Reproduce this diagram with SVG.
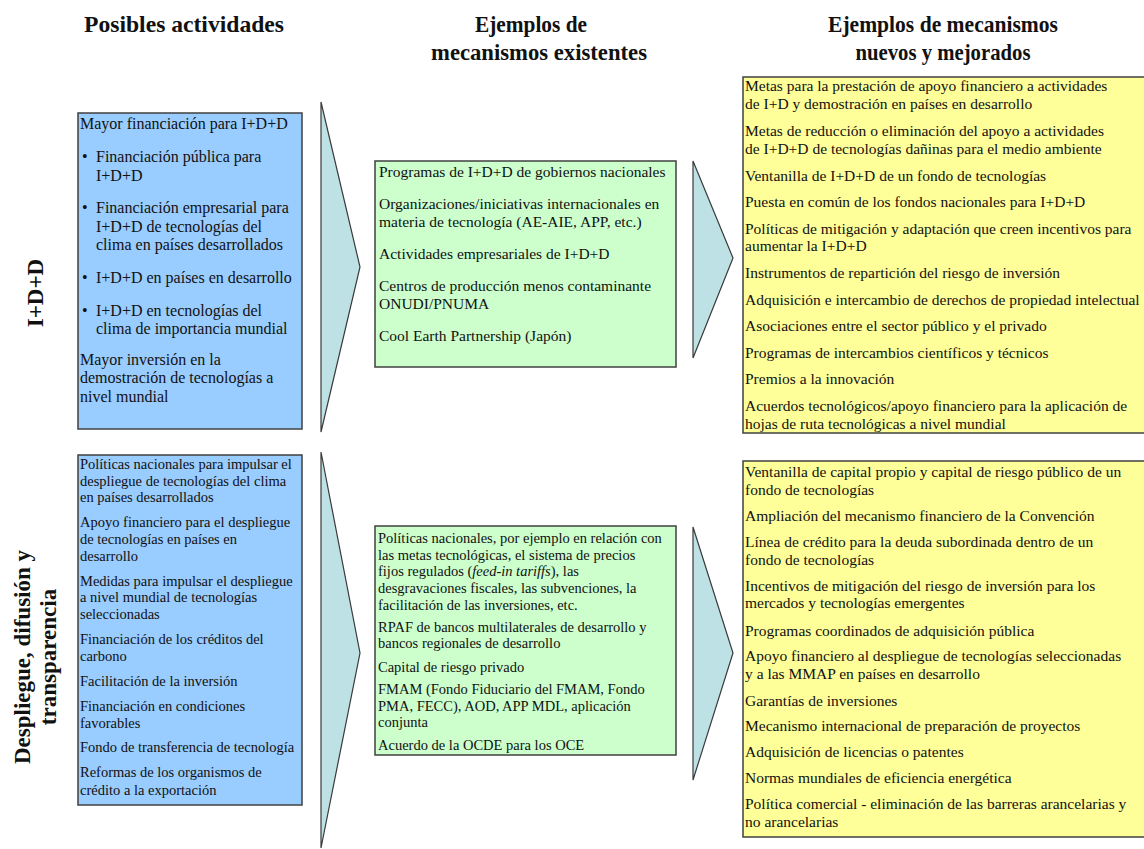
<svg xmlns="http://www.w3.org/2000/svg" width="1144" height="849" viewBox="0 0 1144 849">
<style>
text{font-family:"Liberation Serif","Times New Roman",serif;fill:#111}
.h{font-size:23px;font-weight:bold;text-anchor:middle}
.side{font-size:23px;font-weight:bold;text-anchor:middle}
.box{stroke:#404040;stroke-width:1.5}
.blue{fill:#99ccff}
.green{fill:#ccffcc}
.yellow{fill:#ffff99}
.chev{fill:#bde1e4;stroke:#3a3a3a;stroke-width:1.2}
.t16{font-size:16px}
.t155{font-size:15.5px}
.t145{font-size:14.5px}
</style>
<rect width="1144" height="849" fill="#fff"/>
<g id="headers">
<text class="h" x="184" y="32" textLength="200" lengthAdjust="spacingAndGlyphs">Posibles actividades</text>
<text class="h" x="531" y="32" textLength="112" lengthAdjust="spacingAndGlyphs">Ejemplos de</text>
<text class="h" x="539" y="60" textLength="216" lengthAdjust="spacingAndGlyphs">mecanismos existentes</text>
<text class="h" x="943" y="32" textLength="230" lengthAdjust="spacingAndGlyphs">Ejemplos de mecanismos</text>
<text class="h" x="943" y="60" textLength="175" lengthAdjust="spacingAndGlyphs">nuevos y mejorados</text>
</g>
<g id="label-ird">
<text class="side" transform="translate(43,293) rotate(-90)" x="0" y="0">I+D+D</text>
</g>
<g id="label-despliegue">
<text class="side" transform="translate(30,657) rotate(-90)" x="0" y="0">Despliegue, difusión y</text>
<text class="side" transform="translate(56,657) rotate(-90)" x="0" y="0">transparencia</text>
</g>
<g id="connectors">
<polygon class="chev" points="321,102 360,267 321,432"/>
<polygon class="chev" points="321,452 360,653 321,848"/>
<polygon class="chev" points="693,161 733,258 693,358"/>
<polygon class="chev" points="693,527 733,653 693,780"/>
</g>
<g id="box-act-1">
<rect class="box blue" x="78" y="113" width="224" height="316"/>
<text class="t16" x="80">
<tspan x="80" y="129">Mayor financiación para I+D+D</tspan>
<tspan x="82" y="162">•</tspan><tspan x="96" y="162">Financiación pública para</tspan>
<tspan x="96" y="181">I+D+D</tspan>
<tspan x="82" y="213">•</tspan><tspan x="96" y="213">Financiación empresarial para</tspan>
<tspan x="96" y="232">I+D+D de tecnologías del</tspan>
<tspan x="96" y="250">clima en países desarrollados</tspan>
<tspan x="82" y="283">•</tspan><tspan x="96" y="283">I+D+D en países en desarrollo</tspan>
<tspan x="82" y="316">•</tspan><tspan x="96" y="316">I+D+D en tecnologías del</tspan>
<tspan x="96" y="334">clima de importancia mundial</tspan>
<tspan x="80" y="365">Mayor inversión en la</tspan>
<tspan x="80" y="383">demostración de tecnologías a</tspan>
<tspan x="80" y="402">nivel mundial</tspan>
</text>
</g>
<g id="box-act-2">
<rect class="box blue" x="78" y="455" width="224" height="350"/>
<text class="t145">
<tspan x="80" y="469">Políticas nacionales para impulsar el</tspan>
<tspan x="80" y="486">despliegue de tecnologías del clima</tspan>
<tspan x="80" y="502">en países desarrollados</tspan>
<tspan x="80" y="527">Apoyo financiero para el despliegue</tspan>
<tspan x="80" y="544">de tecnologías en países en</tspan>
<tspan x="80" y="561">desarrollo</tspan>
<tspan x="80" y="586">Medidas para impulsar el despliegue</tspan>
<tspan x="80" y="602">a nivel mundial de tecnologías</tspan>
<tspan x="80" y="619">seleccionadas</tspan>
<tspan x="80" y="644">Financiación de los créditos del</tspan>
<tspan x="80" y="661">carbono</tspan>
<tspan x="80" y="686">Facilitación de la inversión</tspan>
<tspan x="80" y="711">Financiación en condiciones</tspan>
<tspan x="80" y="728">favorables</tspan>
<tspan x="80" y="752">Fondo de transferencia de tecnología</tspan>
<tspan x="80" y="777">Reformas de los organismos de</tspan>
<tspan x="80" y="795">crédito a la exportación</tspan>
</text>
</g>
<g id="box-exist-1">
<rect class="box green" x="375" y="161" width="301" height="206"/>
<text class="t155">
<tspan x="379" y="177">Programas de I+D+D de gobiernos nacionales</tspan>
<tspan x="379" y="209">Organizaciones/iniciativas internacionales en</tspan>
<tspan x="379" y="227">materia de tecnología (AE-AIE, APP, etc.)</tspan>
<tspan x="379" y="259">Actividades empresariales de I+D+D</tspan>
<tspan x="379" y="291">Centros de producción menos contaminante</tspan>
<tspan x="379" y="309">ONUDI/PNUMA</tspan>
<tspan x="379" y="341">Cool Earth Partnership (Japón)</tspan>
</text>
</g>
<g id="box-exist-2">
<rect class="box green" x="375" y="526" width="301" height="229"/>
<text class="t145">
<tspan x="378" y="543">Políticas nacionales, por ejemplo en relación con</tspan>
<tspan x="378" y="560">las metas tecnológicas, el sistema de precios</tspan>
<tspan x="378" y="576">fijos regulados (<tspan font-style="italic">feed-in tariffs</tspan>), las</tspan>
<tspan x="378" y="593">desgravaciones fiscales, las subvenciones, la</tspan>
<tspan x="378" y="610">facilitación de las inversiones, etc.</tspan>
<tspan x="378" y="632">RPAF de bancos multilaterales de desarrollo y</tspan>
<tspan x="378" y="648">bancos regionales de desarrollo</tspan>
<tspan x="378" y="672">Capital de riesgo privado</tspan>
<tspan x="378" y="694">FMAM (Fondo Fiduciario del FMAM, Fondo</tspan>
<tspan x="378" y="711">PMA, FECC), AOD, APP MDL, aplicación</tspan>
<tspan x="378" y="727">conjunta</tspan>
<tspan x="378" y="750">Acuerdo de la OCDE para los OCE</tspan>
</text>
</g>
<g id="box-new-1">
<rect class="box yellow" x="743" y="77" width="410" height="356"/>
<text class="t155">
<tspan x="745" y="91">Metas para la prestación de apoyo financiero a actividades</tspan>
<tspan x="745" y="109">de I+D y demostración en países en desarrollo</tspan>
<tspan x="745" y="136">Metas de reducción o eliminación del apoyo a actividades</tspan>
<tspan x="745" y="154">de I+D+D de tecnologías dañinas para el medio ambiente</tspan>
<tspan x="745" y="181">Ventanilla de I+D+D de un fondo de tecnologías</tspan>
<tspan x="745" y="207">Puesta en común de los fondos nacionales para I+D+D</tspan>
<tspan x="745" y="234">Políticas de mitigación y adaptación que creen incentivos para</tspan>
<tspan x="745" y="251">aumentar la I+D+D</tspan>
<tspan x="745" y="278">Instrumentos de repartición del riesgo de inversión</tspan>
<tspan x="745" y="305">Adquisición e intercambio de derechos de propiedad intelectual</tspan>
<tspan x="745" y="331">Asociaciones entre el sector público y el privado</tspan>
<tspan x="745" y="358">Programas de intercambios científicos y técnicos</tspan>
<tspan x="745" y="384">Premios a la innovación</tspan>
<tspan x="745" y="411">Acuerdos tecnológicos/apoyo financiero para la aplicación de</tspan>
<tspan x="745" y="429">hojas de ruta tecnológicas a nivel mundial</tspan>
</text>
</g>
<g id="box-new-2">
<rect class="box yellow" x="743" y="461" width="410" height="376"/>
<text class="t155">
<tspan x="745" y="477">Ventanilla de capital propio y capital de riesgo público de un</tspan>
<tspan x="745" y="495">fondo de tecnologías</tspan>
<tspan x="745" y="521">Ampliación del mecanismo financiero de la Convención</tspan>
<tspan x="745" y="547">Línea de crédito para la deuda subordinada dentro de un</tspan>
<tspan x="745" y="565">fondo de tecnologías</tspan>
<tspan x="745" y="591">Incentivos de mitigación del riesgo de inversión para los</tspan>
<tspan x="745" y="608">mercados y tecnologías emergentes</tspan>
<tspan x="745" y="636">Programas coordinados de adquisición pública</tspan>
<tspan x="745" y="661">Apoyo financiero al despliegue de tecnologías seleccionadas</tspan>
<tspan x="745" y="679">y a las MMAP en países en desarrollo</tspan>
<tspan x="745" y="706">Garantías de inversiones</tspan>
<tspan x="745" y="731">Mecanismo internacional de preparación de proyectos</tspan>
<tspan x="745" y="757">Adquisición de licencias o patentes</tspan>
<tspan x="745" y="783">Normas mundiales de eficiencia energética</tspan>
<tspan x="745" y="809">Política comercial - eliminación de las barreras arancelarias y</tspan>
<tspan x="745" y="827">no arancelarias</tspan>
</text>
</g>
</svg>
